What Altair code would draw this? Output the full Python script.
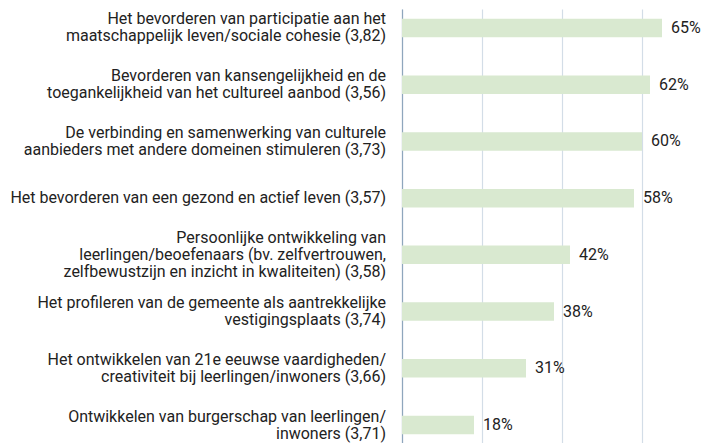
import altair as alt
import pandas as pd

categories = [
    "Het bevorderen van participatie aan het|maatschappelijk leven/sociale cohesie (3,82)",
    "Bevorderen van kansengelijkheid en de|toegankelijkheid van het cultureel aanbod (3,56)",
    "De verbinding en samenwerking van culturele|aanbieders met andere domeinen stimuleren (3,73)",
    "Het bevorderen van een gezond en actief leven (3,57)",
    "Persoonlijke ontwikkeling van|leerlingen/beoefenaars (bv. zelfvertrouwen,|zelfbewustzijn en inzicht in kwaliteiten) (3,58)",
    "Het profileren van de gemeente als aantrekkelijke|vestigingsplaats (3,74)",
    "Het ontwikkelen van 21e eeuwse vaardigheden/|creativiteit bij leerlingen/inwoners (3,66)",
    "Ontwikkelen van burgerschap van leerlingen/|inwoners (3,71)",
]
values = [0.65, 0.62, 0.60, 0.58, 0.42, 0.38, 0.31, 0.18]
value_labels = ["65%", "62%", "60%", "58%", "42%", "38%", "31%", "18%"]

df = pd.DataFrame({"cat": categories, "val": values, "lbl": value_labels})

HEIGHT = 435
PAD_IN = 0.674
PAD_OUT = 0.172
LINE_H = 17
step = HEIGHT / (len(categories) - PAD_IN + 2 * PAD_OUT)
half_band = step * (1 - PAD_IN) / 2

rows = []
for c in categories:
    lines = c.split("|")
    n = len(lines)
    for i, ln in enumerate(lines):
        rows.append({"cat": c, "line": ln, "off": half_band + (i - (n - 1) / 2) * LINE_H})
lab_df = pd.DataFrame(rows)

FONT = "Roboto"
TXT = "#222222"

y_scale = alt.Scale(domain=categories, paddingInner=PAD_IN, paddingOuter=PAD_OUT)

y_enc = alt.Y(
    "cat:N",
    sort=categories,
    title=None,
    scale=y_scale,
    axis=alt.Axis(
        labels=False,
        ticks=False,
        domainColor="#8fa6bd",
        domainWidth=1.2,
        grid=False,
    ),
)

x_enc = alt.X(
    "val:Q",
    title=None,
    scale=alt.Scale(domain=[0, 0.7], nice=False),
    axis=alt.Axis(
        values=[0, 0.1, 0.2, 0.3, 0.4, 0.5, 0.6, 0.7],
        labels=False,
        ticks=False,
        domain=False,
        grid=True,
        gridColor="#d3dde7",
        gridWidth=1.2,
    ),
)

bars = alt.Chart(df).mark_bar(color="#d9e9d0").encode(x=x_enc, y=y_enc)

text = alt.Chart(df).mark_text(
    align="left", baseline="middle", dx=9, font=FONT, fontSize=16, color=TXT
).encode(x=alt.X("val:Q"), y=alt.Y("cat:N", sort=categories, scale=y_scale), text="lbl:N")

cat_labels = alt.Chart(lab_df).mark_text(
    align="right", baseline="middle", font=FONT, fontSize=16, color=TXT
).encode(
    x=alt.value(-16),
    y=alt.Y("cat:N", sort=categories, scale=y_scale),
    yOffset=alt.YOffset("off:Q", scale=None),
    text="line:N",
)

chart = (
    (bars + text + cat_labels)
    .properties(
        width=280,
        height=HEIGHT,
        autosize=alt.AutoSizeParams(type="none"),
        padding={"left": 394, "top": 1, "right": 26, "bottom": 0},
    )
    .configure_view(stroke=None)
)

chart.save("out.html", embed_options={"renderer": "svg", "actions": False})
